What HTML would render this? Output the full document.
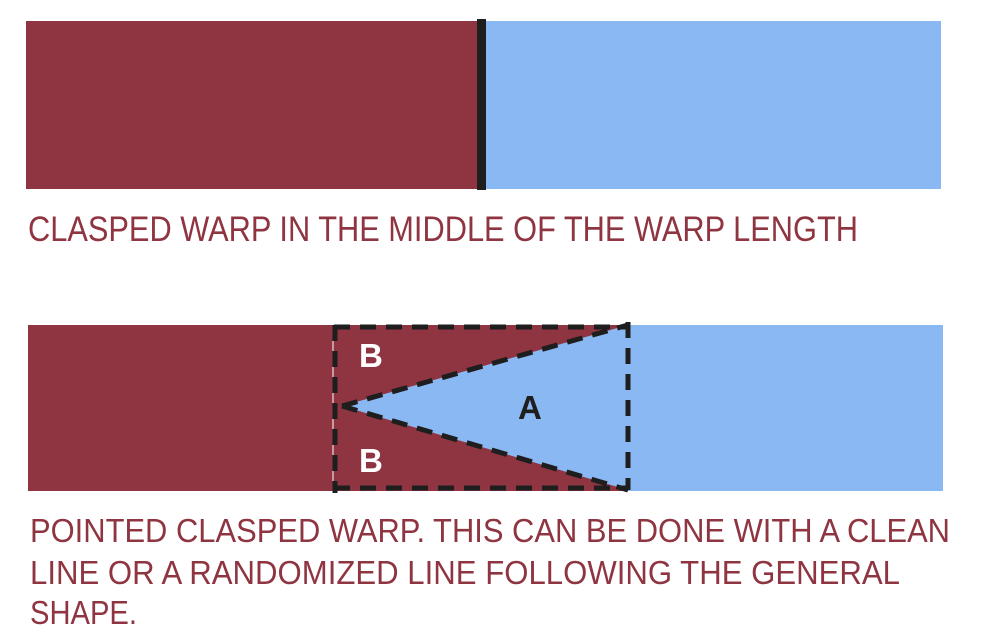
<!DOCTYPE html>
<html><head><meta charset="utf-8"><style>html,body{margin:0;padding:0;background:#fff}svg{display:block}</style></head>
<body>
<svg width="981" height="640" viewBox="0 0 981 640" xmlns="http://www.w3.org/2000/svg">
<rect x="26" y="21" width="455" height="168" fill="#8f3541"/>
<rect x="481" y="21" width="460" height="168" fill="#8ab8f3"/>
<rect x="477" y="19" width="9" height="171" fill="#1e1e1e"/>
<text x="28" y="241" font-family="Liberation Sans, sans-serif" font-size="35" fill="#8f3541" textLength="830" lengthAdjust="spacingAndGlyphs">CLASPED WARP IN THE MIDDLE OF THE WARP LENGTH</text>
<rect x="28" y="325" width="602" height="166" fill="#8f3541"/>
<rect x="628" y="325" width="315" height="166" fill="#8ab8f3"/>
<polygon points="342,406 628,325 628,490" fill="#8ab8f3"/>
<line x1="333" y1="325" x2="333" y2="491" stroke="#fff" stroke-width="1"/>
<g stroke="#1e1e1e" stroke-width="5" stroke-dasharray="16,10" fill="none">
<line x1="334" y1="327" x2="628" y2="327"/>
<line x1="334" y1="488" x2="628" y2="488"/>
<line x1="335" y1="325" x2="335" y2="493"/>
<line x1="628" y1="322" x2="628" y2="490"/>
<line x1="342" y1="406" x2="628" y2="325"/>
<line x1="342" y1="406" x2="628" y2="490"/>
</g>
<g font-family="Liberation Sans, sans-serif" font-weight="bold" font-size="33">
<text x="359" y="367" fill="#fff">B</text>
<text x="359" y="472" fill="#fff">B</text>
<text x="518" y="419" fill="#1e1e1e">A</text>
</g>
<g font-family="Liberation Sans, sans-serif" font-size="33" fill="#8f3541">
<text x="30" y="542" textLength="920" lengthAdjust="spacingAndGlyphs">POINTED CLASPED WARP. THIS CAN BE DONE WITH A CLEAN</text>
<text x="30" y="584" textLength="870" lengthAdjust="spacingAndGlyphs">LINE OR A RANDOMIZED LINE FOLLOWING THE GENERAL</text>
<text x="30" y="624" textLength="107" lengthAdjust="spacingAndGlyphs">SHAPE.</text>
</g>
</svg>
</body></html>
